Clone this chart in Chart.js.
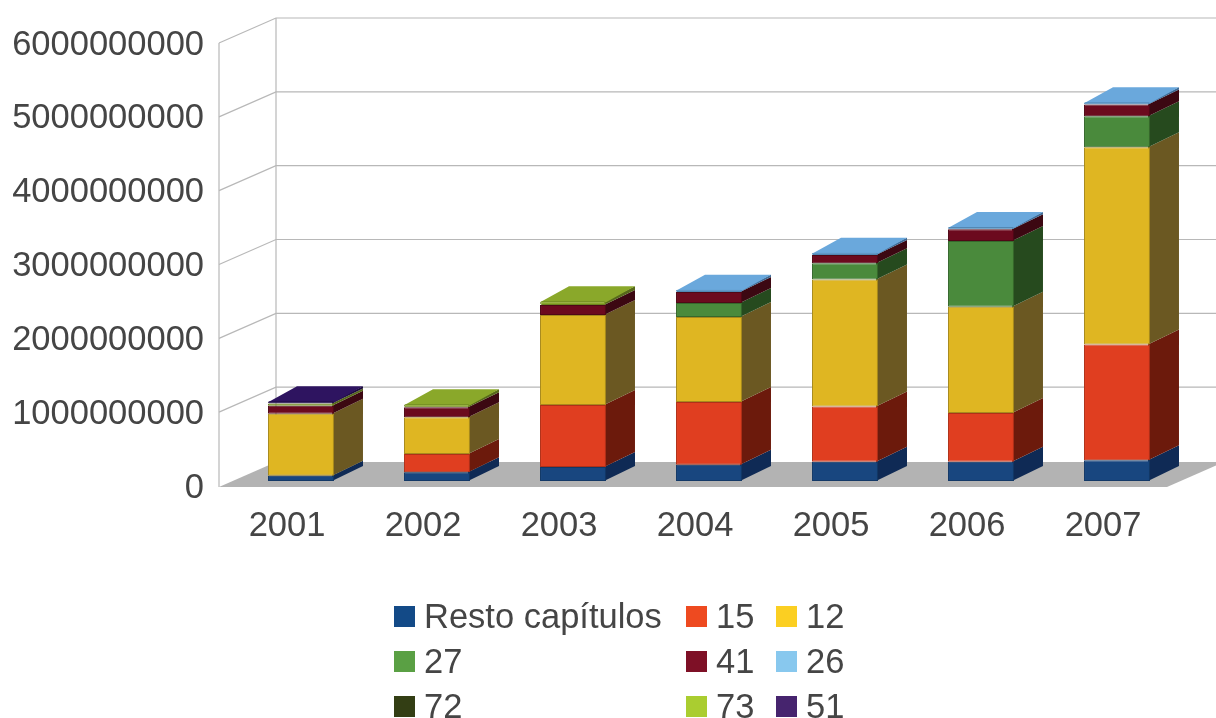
<!DOCTYPE html>
<html>
<head>
<meta charset="utf-8">
<script src="https://cdn.jsdelivr.net/npm/chart.js@4"></script>
<style>
  html, body { margin: 0; padding: 0; background: #fff; overflow: hidden; }
  #wrap { position: relative; width: 1216px; height: 718px; filter: blur(0.6px); }
  #legend { position: absolute; left: 394px; top: 594px; display: grid; grid-template-columns: 292px 90px auto; grid-auto-rows: 45px;
    font: 34.5px "Liberation Sans", sans-serif; color: #454545; }
  #legend div { display: flex; align-items: center; white-space: nowrap; height: 45px; }
  #legend i { display: block; width: 21px; height: 21px; margin-right: 9px; flex: none; }
</style>
</head>
<body>
<div id="wrap">
  <canvas id="chart" width="1216" height="718"></canvas>
  <div id="legend"></div>
</div>
<script>
const years = ["2001", "2002", "2003", "2004", "2005", "2006", "2007"];
const seriesNames = ["Resto capítulos", "15", "12", "27", "41", "26", "72", "73", "51"];

const resto = [70e6, 120e6, 190e6, 220e6, 260e6, 260e6, 280e6];
const cap15 = [0, 245e6, 840e6, 850e6, 750e6, 660e6, 1570e6];
const cap12 = [840e6, 500e6, 1220e6, 1150e6, 1720e6, 1440e6, 2670e6];
const cap27 = [0, 0, 0, 190e6, 220e6, 890e6, 420e6];
const cap41 = [110e6, 135e6, 135e6, 150e6, 110e6, 160e6, 160e6];
const cap26 = [0, 0, 0, 30e6, 30e6, 30e6, 30e6];
const cap72 = [0, 0, 0, 0, 0, 0, 0];
const cap73 = [30e6, 40e6, 50e6, 0, 0, 0, 0];
const cap51 = [30e6, 0, 0, 0, 0, 0, 0];

const legendColors = ["#134a87", "#ee4a20", "#fbcf22", "#5aa044", "#7e1026", "#88c8ee", "#333e14", "#aacd30", "#46246e"];
const frontColors = ["#18467f", "#e03e20", "#dfb622", "#4a8a3c", "#6c0a1e", "#6aa8dc", "#2c3a08", "#8aa82a", "#2e1460"];
const sideColors = ["#0f2a55", "#6c1a0c", "#6b5822", "#264a1e", "#3c0812", "#3f6a94", "#182004", "#56681a", "#1c0c3c"];
const edgeColors = ["#123866", "#b03018", "#a88a1c", "#36682c", "#500816", "#5288b4", "#202c06", "#6c8420", "#220e48"];
const seriesValues = [resto, cap15, cap12, cap27, cap41, cap26, cap72, cap73, cap51];

const barDepth = { x: 29, y: 15 };
const wallDepth = { x: 57, y: 25 };
const frontShift = { x: -14, y: 5 };

function fillPoly(ctx, pts, color) {
  ctx.beginPath();
  pts.forEach((p, i) => (i ? ctx.lineTo(p[0], p[1]) : ctx.moveTo(p[0], p[1])));
  ctx.closePath();
  ctx.fillStyle = color;
  ctx.fill();
}

const walls3d = {
  id: "walls3d",
  beforeDatasetsDraw(chart) {
    const { ctx, scales, width, chartArea } = chart;
    const left = chartArea.left + frontShift.x;
    const right = chartArea.right + frontShift.x - 4;
    const front = scales.y.getPixelForValue(0) + frontShift.y + 1;
    ctx.save();
    // floor
    fillPoly(ctx, [
      [left, front],
      [left + wallDepth.x, front - wallDepth.y],
      [right + wallDepth.x, front - wallDepth.y],
      [right, front],
    ], "#b3b3b3");
    // grid on back and side wall
    ctx.strokeStyle = "#b8b8b8";
    ctx.lineWidth = 1.2;
    scales.y.ticks.forEach((t) => {
      if (t.value === 0) return;
      const y = scales.y.getPixelForValue(t.value) + frontShift.y;
      ctx.beginPath();
      ctx.moveTo(left, y);
      ctx.lineTo(left + wallDepth.x, y - wallDepth.y);
      ctx.lineTo(width, y - wallDepth.y);
      ctx.stroke();
    });
    const topY = scales.y.getPixelForValue(6e9) + frontShift.y;
    ctx.beginPath();
    ctx.moveTo(left, front);
    ctx.lineTo(left, topY);
    ctx.moveTo(left + wallDepth.x, front - wallDepth.y);
    ctx.lineTo(left + wallDepth.x, topY - wallDepth.y);
    ctx.stroke();

    // side and top faces of the bars
    years.forEach((_, j) => {
      let last = -1;
      chart.data.datasets.forEach((ds, i) => {
        if (!ds.data[j]) return;
        last = i;
        const el = chart.getDatasetMeta(i).data[j];
        const r = el.x + el.width / 2;
        fillPoly(ctx, [
          [r - 2, el.y],
          [r + barDepth.x, el.y - barDepth.y],
          [r + barDepth.x, el.base - barDepth.y],
          [r - 2, el.base],
        ], sideColors[i]);
      });
      if (last >= 0) {
        const el = chart.getDatasetMeta(last).data[j];
        const l = el.x - el.width / 2;
        const r = el.x + el.width / 2;
        fillPoly(ctx, [
          [l, el.y + 1],
          [l + barDepth.x, el.y - barDepth.y],
          [r + barDepth.x, el.y - barDepth.y],
          [r, el.y + 1],
        ], frontColors[last]);
      }
    });
    ctx.restore();
  },
};

const font = { family: '"Liberation Sans", sans-serif', size: 34.5 };

const chart = new Chart(document.getElementById("chart"), {
  type: "bar",
  data: {
    labels: years,
    datasets: seriesNames.map((name, i) => ({
      label: name,
      data: seriesValues[i],
      backgroundColor: frontColors[i],
      borderColor: edgeColors[i],
      borderWidth: (c) => (c.raw ? 1 : 0),
      borderRadius: 3,
      borderSkipped: false,
      barPercentage: 0.485,
      categoryPercentage: 1,
    })),
  },
  options: {
    responsive: false,
    animation: false,
    devicePixelRatio: 1,
    layout: { padding: { top: 38, right: 31, left: 0, bottom: 0 } },
    plugins: { legend: { display: false }, tooltip: { enabled: false } },
    scales: {
      x: {
        stacked: true,
        grid: { display: false },
        border: { display: false },
        ticks: { font, color: "#454545", padding: 17, labelOffset: frontShift.x, maxRotation: 0 },
        afterFit(scale) { scale.height = 237; },
      },
      y: {
        stacked: true,
        min: 0,
        max: 6e9,
        grid: { display: false, drawTicks: false },
        border: { display: false },
        ticks: {
          font,
          color: "#454545",
          stepSize: 1e9,
          padding: 29,
          labelOffset: 7,
          callback: (v) => String(v),
        },
        afterFit(scale) {
          scale.width = 233;
          scale.paddingTop = 0;
          scale.paddingBottom = 0;
        },
      },
    },
  },
  plugins: [walls3d],
});

const legendBox = document.getElementById("legend");
seriesNames.forEach((name, i) => {
  const row = document.createElement("div");
  const swatch = document.createElement("i");
  swatch.style.background = legendColors[i];
  row.appendChild(swatch);
  row.appendChild(document.createTextNode(name));
  legendBox.appendChild(row);
});
</script>
</body>
</html>
